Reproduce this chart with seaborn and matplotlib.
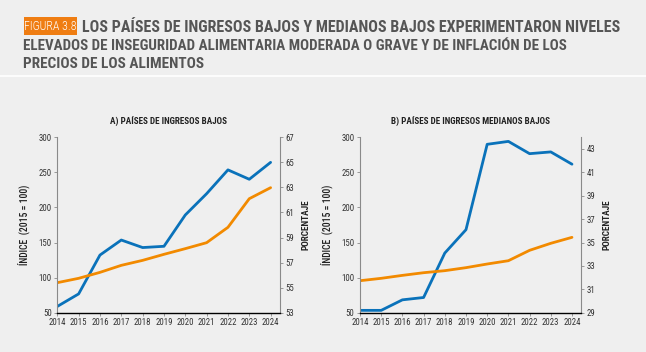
import matplotlib
matplotlib.use("Agg")
import pandas as pd
import seaborn as sns
import matplotlib.pyplot as plt
from matplotlib import font_manager
from matplotlib.patches import Rectangle

years = list(range(2014, 2025))

# A) low income countries
idx_low = [92.8, 99.0, 107.5, 117.5, 124.6, 133.2, 141.3, 149.8, 171.7, 212.5, 228.2]
pct_low = [53.5, 54.5, 57.6, 58.8, 58.2, 58.3, 60.8, 62.5, 64.4, 63.65, 65.0]

# B) lower-middle income countries
idx_lmi = [95.6, 99.0, 103.2, 107.0, 109.9, 114.2, 119.4, 124.1, 138.9, 148.9, 157.4]
pct_lmi = [29.2, 29.2, 30.1, 30.3, 34.1, 36.1, 43.4, 43.65, 42.6, 42.75, 41.7]

BG = "#efefef"
BLUE = "#0a72ba"
ORANGE = "#f28a00"
GREY_TXT = "#555555"

names = {f.name for f in font_manager.fontManager.ttflist}
cond = "DejaVu Sans"
for cand in ["Roboto Condensed", "Barlow Condensed", "Archivo Narrow", "Asap Condensed"]:
    if cand in names:
        cond = cand
        break

sns.set_style("ticks")
plt.rcParams["font.family"] = [cond, "DejaVu Sans"]

df_low = pd.DataFrame({"year": years, "indice": idx_low, "pct": pct_low})
df_lmi = pd.DataFrame({"year": years, "indice": idx_lmi, "pct": pct_lmi})

fig = plt.figure(figsize=(6.46, 3.52), dpi=100)
fig.patch.set_facecolor(BG)

# white divider under the header
fig.add_artist(plt.Line2D([0, 1], [1 - 75.5 / 352] * 2, color="white", lw=1.2))

# header: orange label box + title
fig.add_artist(Rectangle((24 / 646, 1 - 35 / 352), 53 / 646, 18 / 352,
                         transform=fig.transFigure, fc="#ef7d12", ec="none"))
fig.text(50.5 / 646, 1 - 26 / 352, "FIGURA 3.8", color="white", fontsize=8.6,
         fontweight="light", va="center", ha="center")
fig.text(82 / 646, 1 - 27 / 352, "LOS PAÍSES DE INGRESOS BAJOS Y MEDIANOS BAJOS EXPERIMENTARON NIVELES",
         color=GREY_TXT, fontsize=11.5, fontweight="bold", va="center", ha="left")
fig.text(23 / 646, 1 - 45.5 / 352, "ELEVADOS DE INSEGURIDAD ALIMENTARIA MODERADA O GRAVE Y DE INFLACIÓN DE LOS",
         color=GREY_TXT, fontsize=10.8, fontweight="bold", va="center", ha="left")
fig.text(23 / 646, 1 - 64 / 352, "PRECIOS DE LOS ALIMENTOS",
         color=GREY_TXT, fontsize=11, fontweight="bold", va="center", ha="left")


def panel(rect, df, title, pct_lim, pct_ticks):
    ax = fig.add_axes(rect)
    ax.set_facecolor(BG)
    ax2 = ax.twinx()
    sns.lineplot(data=df, x="year", y="indice", ax=ax, color=ORANGE, lw=2.0)
    sns.lineplot(data=df, x="year", y="pct", ax=ax2, color=BLUE, lw=2.0)
    ax.set_xlim(2014, 2024.44)
    ax.set_ylim(50, 300)
    ax.set_yticks([50, 100, 150, 200, 250, 300])
    ax.set_xticks(years)
    ax2.set_ylim(*pct_lim)
    ax2.set_yticks(pct_ticks)
    for a in (ax, ax2):
        for s in a.spines.values():
            s.set_color("#8a8a8a")
            s.set_linewidth(0.8)
        a.spines["top"].set_visible(False)
        a.tick_params(length=2.5, width=0.6, color="#8a8a8a", labelsize=6.3,
                      labelcolor="#333333", pad=1.5)
    ax.spines["right"].set_visible(False)
    ax2.spines["left"].set_visible(False)
    ax2.spines["bottom"].set_visible(False)
    ax.spines["bottom"].set_color("black")
    ax.spines["bottom"].set_linewidth(1.0)
    ax.set_xlabel("")
    ax.set_ylabel("ÍNDICE  (2015 = 100)", fontsize=6.9, fontweight="medium",
                  color="#222222", labelpad=6)
    ax2.set_ylabel("PORCENTAJE", fontsize=6.7, fontweight="bold", color="#222222", labelpad=5)
    ax.set_title(title, fontsize=6.6, fontweight="bold", color="#222222", pad=9)
    ax.set_zorder(ax2.get_zorder() + 1)
    ax.patch.set_visible(False)
    return ax


panel([57.3 / 646, 39.3 / 352, 222.7 / 646, 175.4 / 352], df_low,
      "A) PAÍSES DE INGRESOS BAJOS", (53, 67), list(range(53, 68, 2)))
panel([360 / 646, 39.3 / 352, 221.3 / 646, 175.4 / 352], df_lmi,
      "B) PAÍSES DE INGRESOS MEDIANOS BAJOS", (29, 44), list(range(29, 44, 2)))

fig.savefig("out.png", dpi=100, facecolor=BG)
